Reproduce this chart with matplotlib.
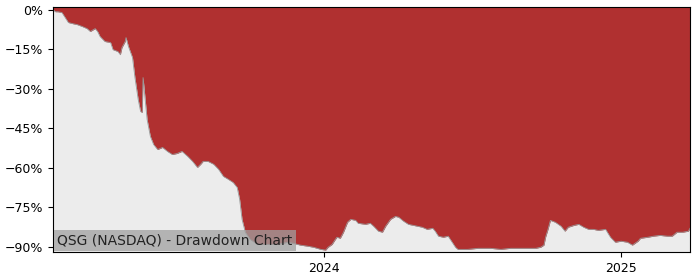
import matplotlib
matplotlib.use("Agg")
import matplotlib.pyplot as plt
import matplotlib.dates as mdates
import matplotlib.ticker as mticker
import matplotlib.transforms as mtransforms
import pandas as pd

dates = [
    "2023-02-01", "2023-02-04", "2023-02-07", "2023-02-12", "2023-02-16", "2023-02-20",
    "2023-02-25", "2023-03-03", "2023-03-09", "2023-03-15", "2023-03-19", "2023-03-25",
    "2023-03-28", "2023-03-31", "2023-04-06", "2023-04-13", "2023-04-16", "2023-04-22",
    "2023-04-25", "2023-04-27", "2023-05-01", "2023-05-02", "2023-05-05", "2023-05-10",
    "2023-05-13", "2023-05-17", "2023-05-20", "2023-05-22", "2023-05-23", "2023-05-26",
    "2023-05-28", "2023-06-01", "2023-06-05", "2023-06-10", "2023-06-16", "2023-06-22",
    "2023-06-28", "2023-07-04", "2023-07-10", "2023-07-17", "2023-07-23", "2023-07-29",
    "2023-08-02", "2023-08-05", "2023-08-11", "2023-08-18", "2023-08-24", "2023-08-30",
    "2023-09-05", "2023-09-11", "2023-09-16", "2023-09-19", "2023-09-22", "2023-09-26",
    "2023-10-02", "2023-10-11", "2023-10-23", "2023-11-05", "2023-11-17", "2023-11-24",
    "2023-12-03", "2023-12-12", "2023-12-19", "2023-12-28", "2024-01-03", "2024-01-06",
    "2024-01-11", "2024-01-15", "2024-01-17", "2024-01-21", "2024-01-25", "2024-01-30",
    "2024-02-03", "2024-02-09", "2024-02-12", "2024-02-21", "2024-02-27", "2024-03-02",
    "2024-03-08", "2024-03-13", "2024-03-17", "2024-03-23", "2024-03-29", "2024-04-02",
    "2024-04-08", "2024-04-14", "2024-04-25", "2024-05-01", "2024-05-07", "2024-05-14",
    "2024-05-17", "2024-05-21", "2024-05-27", "2024-06-02", "2024-06-07", "2024-06-11",
    "2024-06-14", "2024-06-26", "2024-07-09", "2024-07-24", "2024-08-06", "2024-08-18",
    "2024-08-30", "2024-09-12", "2024-09-18", "2024-09-24", "2024-09-28", "2024-09-30",
    "2024-10-03", "2024-10-06", "2024-10-12", "2024-10-19", "2024-10-24", "2024-10-28",
    "2024-11-04", "2024-11-10", "2024-11-16", "2024-11-22", "2024-11-28", "2024-12-04",
    "2024-12-13", "2024-12-19", "2024-12-25", "2025-01-01", "2025-01-09", "2025-01-15",
    "2025-01-22", "2025-01-25", "2025-02-03", "2025-02-10", "2025-02-18", "2025-02-27",
    "2025-03-05", "2025-03-11", "2025-03-18", "2025-03-25", "2025-03-27",
]

drawdown = [
    0.0, -0.8, -0.8, -1.1, -3.0, -4.9,
    -5.3, -5.7, -6.4, -7.2, -8.3, -7.2,
    -8.3, -10.2, -12.1, -12.5, -15.2, -15.9,
    -17.1, -14.4, -12.1, -10.6, -14.0, -18.2,
    -25.8, -34.1, -38.7, -39.0, -25.8, -35.2,
    -41.7, -48.1, -51.2, -53.1, -52.3, -53.8,
    -55.0, -54.6, -53.8, -55.7, -57.6, -59.9,
    -58.7, -57.6, -57.6, -58.7, -60.6, -63.3,
    -64.4, -65.6, -67.5, -72.0, -79.6, -84.5,
    -87.2, -89.1, -89.1, -89.1, -88.3, -88.7,
    -89.4, -89.8, -90.2, -91.0, -91.3, -90.2,
    -89.1, -87.2, -86.4, -86.8, -84.5, -80.7,
    -79.6, -80.0, -81.1, -81.5, -81.1, -82.2,
    -84.1, -84.5, -82.2, -79.6, -78.5, -78.8,
    -80.3, -81.5, -82.2, -82.6, -83.4, -83.0,
    -84.1, -86.0, -86.4, -86.0, -88.3, -90.2,
    -91.0, -91.0, -90.6, -90.6, -91.0, -90.6,
    -90.6, -90.6, -90.6, -90.2, -89.4, -86.4,
    -83.4, -80.0, -80.7, -82.2, -84.1, -82.6,
    -81.9, -81.5, -82.6, -83.4, -83.4, -83.8,
    -83.4, -86.4, -88.3, -87.9, -88.3, -89.4,
    -87.9, -86.8, -86.4, -86.0, -85.7, -86.0,
    -86.0, -84.5, -84.5, -84.1, -83.0,
]

title_text = "QSG (NASDAQ) - Drawdown Chart"
y_ticks = [0, -15, -30, -45, -60, -75, -90]
y_limits = (-92, 1)

x = pd.to_datetime(dates)

fig = plt.figure(figsize=(7, 2.8), dpi=100)
ax = fig.add_axes([0.0757, 0.1, 0.91, 0.875])
ax.set_facecolor("#ececec")

ax.fill_between(x, drawdown, y_limits[1], color="#b03030", linewidth=0)
ax.plot(x, drawdown, color="#999999", linewidth=0.6)

ax.set_xlim(x[0], x[-1])
ax.set_ylim(*y_limits)
ax.set_yticks(y_ticks)
ax.yaxis.set_major_formatter(mticker.FuncFormatter(lambda v, p: f"{int(v)}%".replace("-", "\u2212")))
ax.xaxis.set_major_locator(mdates.YearLocator())
ax.xaxis.set_major_formatter(mdates.DateFormatter("%Y"))
ax.tick_params(labelsize=9)

offset = mtransforms.offset_copy(ax.transAxes, fig=fig, x=3, y=3, units="points")
ax.text(0, 0, title_text, transform=offset, fontsize=10, ha="left", va="bottom",
        color="#222222",
        bbox=dict(boxstyle="square,pad=0.25", facecolor="#a0a0a0", edgecolor="none", alpha=0.75))

fig.savefig("out.png", dpi=100)
